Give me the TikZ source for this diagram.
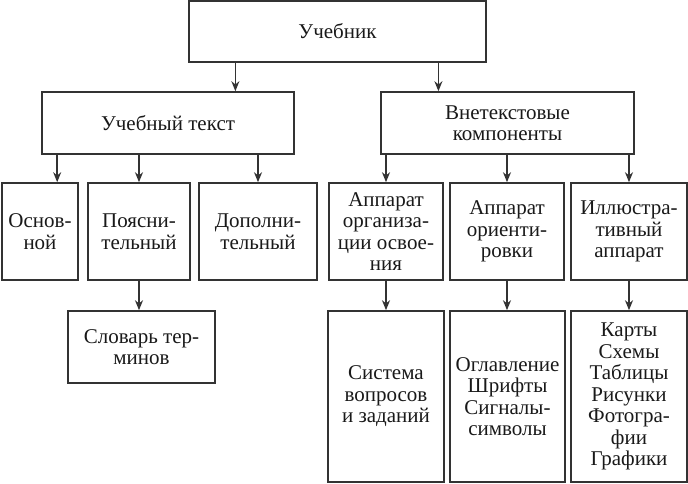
\documentclass[tikz,border=0pt]{standalone}
\usepackage{fontspec}
\setmainfont{Liberation Serif}
\usetikzlibrary{arrows.meta, calc, positioning}

\begin{document}
\begin{tikzpicture}[x=1pt, y=-1pt, >={Stealth[length=10pt, width=8pt]},
		font=\fontsize{21pt}{21.5pt}\selectfont]
	\tikzstyle{block} = [draw=black!80, line width=1.6pt, rectangle, align=center, inner sep=0pt, text=black!90]
	\tikzstyle{link} = [color=black!80, line width=1.6pt]

	\useasboundingbox (0,0) rectangle (688,483);

	% top
	\node[block, minimum width=297pt, minimum height=61pt] (book) at (337.5,31.5) {Учебник};

	% second row
	\node[block, minimum width=252pt, minimum height=62pt] (text) at (168,123) {Учебный текст};
	\node[block, minimum width=253pt, minimum height=62pt] (extra) at (507.5,123) {Внетекстовые\\компоненты};

	% third row
	\begin{scope}[every node/.append style={minimum height=97pt}]
		\node[block, minimum width=76pt] (main) at (40,231.5) {Основ-\\ной};
		\node[block, minimum width=102pt] (expl) at (139,231.5) {Поясни-\\тельный};
		\node[block, minimum width=118pt] (add) at (258,231.5) {Дополни-\\тельный};
		\node[block, minimum width=114pt] (org) at (386,231.5) {Аппарат\\организа-\\ции освое-\\ния};
		\node[block, minimum width=114pt] (orient) at (507,231.5) {Аппарат\\ориенти-\\ровки};
		\node[block, minimum width=116pt] (illus) at (629,231.5) {Иллюстра-\\тивный\\аппарат};
	\end{scope}

	% bottom row
	\node[block, minimum width=147pt, minimum height=72pt] (dict) at (141.5,347) {Словарь тер-\\минов};
	\begin{scope}[every node/.append style={minimum height=171pt}]
		\node[block, minimum width=116pt] (quest) at (386,396.5) {Система\\вопросов\\и заданий};
		\node[block, minimum width=115pt] (toc) at (507.5,396.5) {Оглавление\\Шрифты\\Сигналы-\\символы};
		\node[block, minimum width=116pt] (maps) at (629,396.5) {Карты\\Схемы\\Таблицы\\Рисунки\\Фотогра-\\фии\\Графики};
	\end{scope}

	\coordinate (b1) at ($(book.south west)!.158!(book.south east)$);
	\coordinate (b2) at ($(book.south west)!.838!(book.south east)$);
	\coordinate (t1) at ($(text.south west)!.063!(text.south east)$);

	\path[->, link]
		(b1) edge (b1 |- text.north)
		(b2) edge (b2 |- extra.north)

		(t1) edge (t1 |- main.north)
		(text.south -| expl.north) edge (expl.north)
		(text.south -| add.north) edge (add.north)
		(extra.south -| org.north) edge (org.north)
		(extra.south -| orient.north) edge (orient.north)
		(extra.south -| illus.north) edge (illus.north)

		(expl.south) edge (expl.south |- dict.north)
		(org.south) edge (org.south |- quest.north)
		(orient.south) edge (orient.south |- toc.north)
		(illus.south) edge (illus.south |- maps.north)
	;
\end{tikzpicture}
\end{document}
